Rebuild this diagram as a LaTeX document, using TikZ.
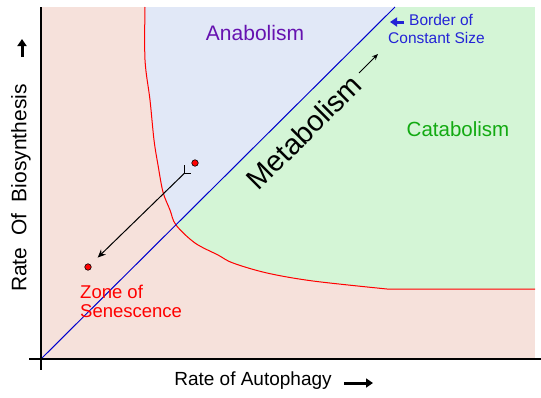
\documentclass[tikz,border=0pt]{standalone}
\usepackage{fontspec}
\setmainfont{Liberation Sans}
\usetikzlibrary{arrows.meta,positioning,calc}
\definecolor{senpink}{HTML}{F6E1DB}
\definecolor{anablue}{HTML}{E1E8F7}
\definecolor{catgreen}{HTML}{D4F5D6}
\definecolor{anatext}{HTML}{6612B0}
\definecolor{cattext}{HTML}{12AA12}
\definecolor{bordertext}{HTML}{2424D6}
\newcommand{\fsz}[2]{\fontsize{#1}{#2}\selectfont}
\def\senescence{plot[smooth,tension=0.55] coordinates {(145,7) (145,60) (150,100) (154,140) (158,165) (163,192) (170,210) (176,225) (195,243) (218,255) (233,263) (267,273) (313,281) (387,289)}}

\begin{document}
\begin{tikzpicture}[x=1pt,y=-1pt,inner sep=0pt]
  \tikzstyle{dotnode}=[circle,fill=red,draw=black,line width=0.6pt,minimum size=6.5pt]
  \tikzstyle{fatarrow}=[line width=3pt,-{Triangle[length=7pt,width=9pt]}]
  \useasboundingbox (0,0) rectangle (541,397);
  % zones
  \fill[senpink] (41,7) rectangle (535,359);
  \begin{scope}
    \clip \senescence -- (535,289) -- (535,7) -- cycle;
    \fill[catgreen] (41,7) rectangle (535,359);
    \fill[anablue] (41,359) -- (395,7) -- (41,7) -- cycle;
  \end{scope}
  \draw[red,line width=1pt] \senescence -- (535,289);
  \draw[blue!80!black,line width=1pt] (41,359) -- (395,7);
  % axes
  \draw[line width=2pt] (41,7) -- (41,370);
  \draw[line width=2pt] (29,359) -- (541,359);
  % labels
  \node[anatext,font=\fsz{21}{21}] (ana) at (255,33) {Anabolism};
  \node[cattext,font=\fsz{20.5}{21}] (cat) at (458,129) {Catabolism};
  \node[rotate=45,font=\fsz{29}{29}] (metab) at (304,132) {Metabolism};
  \node[bordertext,align=left,anchor=north west,font=\fsz{15.5}{18}] (border) at (388,14) {\hspace{21pt}Border of\\Constant Size};
  \node[red,align=left,anchor=north west,font=\fsz{18.5}{18.5}] (zone) at (80,285) {Zone of\\Senescence};
  \node[rotate=90,font=\fsz{21}{21}] (ylab) at (21,188) {Rate\ \ Of\ \ Biosynthesis};
  \node[font=\fsz{19}{19}] (xlab) at (253,381) {Rate of Autophagy};
  % arrows
  \coordinate (metabtip) at (359,73);
  \draw[line width=1pt,-{Stealth[length=6pt,width=5pt]}] (metabtip) -- ++(19,-19);
  \coordinate (bordertip) at (404,22);
  \draw[bordertext,fatarrow] (bordertip) -- ++(-14,0);
  \coordinate (ytip) at (22,57);
  \draw[fatarrow] (ytip) -- ++(0,-18);
  \coordinate (xtip) at (344,383);
  \draw[fatarrow] (xtip) -- ++(29,0);
  % states
  \node[dotnode] (old) at (195,163) {};
  \node[dotnode] (young) at (88,267) {};
  \coordinate (tail) at ($(old)!15pt!(young)$);
  \draw[line width=1pt] (tail) -- ++(0,-8) (tail) -- ++(7,0);
  \draw[line width=1pt,-{Stealth[length=8pt,width=7pt]},shorten >=10pt] (tail) -- (young);
\end{tikzpicture}
\end{document}
